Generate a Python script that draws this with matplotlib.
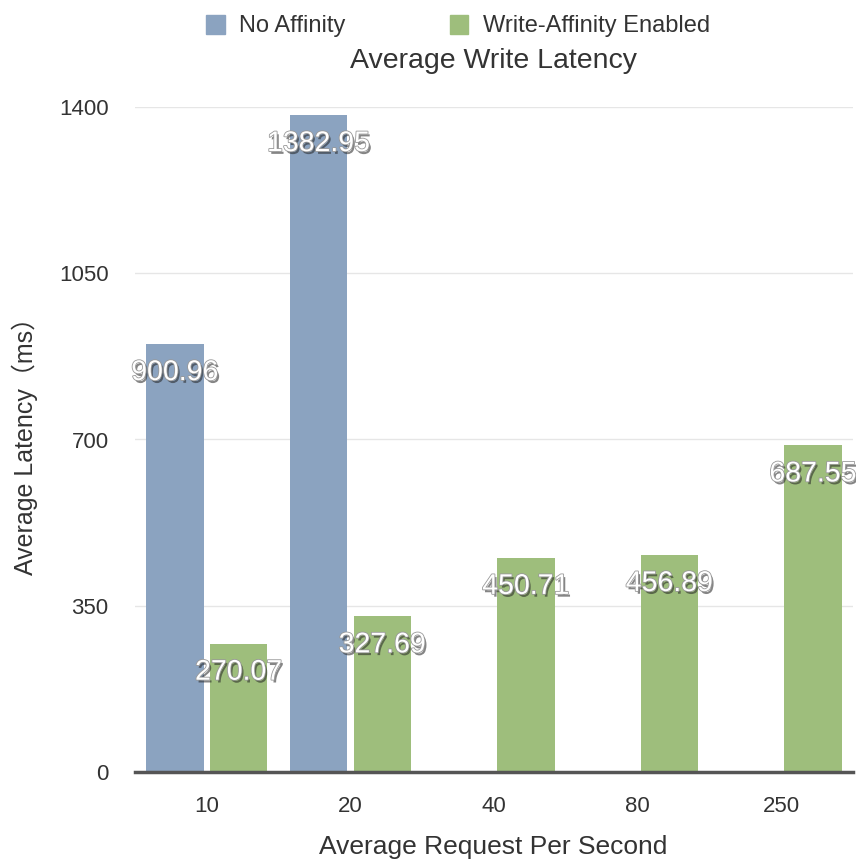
import numpy as np
import matplotlib
matplotlib.use("Agg")
from matplotlib import pyplot as plt
from matplotlib import patheffects as pe
from matplotlib.patches import Patch

plt.rcParams["font.family"] = ["Liberation Sans", "Noto Sans CJK SC", "DejaVu Sans"]

categories = ["10", "20", "40", "80", "250"]
no_affinity = [900.96, 1382.95, None, None, None]
write_affinity = [270.07, 327.69, 450.71, 456.89, 687.55]
yticks = [0, 350, 700, 1050, 1400]

blue = "#8ba3c0"
green = "#9ebe7c"

fig = plt.figure(figsize=(8.56, 8.63), dpi=100)
ax = fig.add_axes([135 / 856, 1 - 772 / 863, 718 / 856, (772 - 107) / 863])

x = np.arange(len(categories))
w = 0.40
off = 0.222

shadow = [pe.SimplePatchShadow(offset=(1.5, -2), shadow_rgbFace="#222222", alpha=0.55),
          pe.Stroke(linewidth=1.2, foreground="#999999"), pe.Normal()]

for i, v in enumerate(no_affinity):
    if v is None:
        continue
    ax.bar(x[i] - off, v, w, color=blue, zorder=2)
    ax.annotate("{:.2f}".format(v), (x[i] - off, v), xytext=(0, -29),
                textcoords="offset pixels", ha="center", va="center",
                fontsize=20.5, color="white", path_effects=shadow, zorder=4)
for i, v in enumerate(write_affinity):
    ax.bar(x[i] + off, v, w, color=green, zorder=2)
    ax.annotate("{:.2f}".format(v), (x[i] + off, v), xytext=(0, -29),
                textcoords="offset pixels", ha="center", va="center",
                fontsize=20.5, color="white", path_effects=shadow, zorder=4)

ax.set_xlim(-0.5, 4.5)
ax.set_ylim(0, 1400)
ax.set_yticks(yticks)
ax.set_xticks(x)
ax.set_xticklabels(categories)
ax.tick_params(axis="both", length=0, labelsize=16, colors="#333333")
ax.tick_params(axis="y", pad=19)
ax.tick_params(axis="x", pad=17)
ax.yaxis.grid(True, color="#e6e6e6", linewidth=1)
ax.set_axisbelow(True)
for s in ["top", "right", "left"]:
    ax.spines[s].set_visible(False)
ax.spines["bottom"].set_color("#555555")
ax.spines["bottom"].set_linewidth(2.5)
ax.spines["bottom"].set_zorder(5)

fig.text(493 / 856, 1 - 847 / 863, "Average Request Per Second", ha="center", va="center",
         fontsize=19, color="#333333")
fig.text(25 / 856, 1 - 440 / 863, "Average Latency（ms）", ha="center", va="center",
         rotation=90, fontsize=18, color="#333333")
fig.text(493 / 856, 1 - 61 / 863, "Average Write Latency", ha="center", va="center",
         fontsize=20.5, color="#333333")

handles = [Patch(color=blue, label="No Affinity"), Patch(color=green, label="Write-Affinity Enabled")]
fig.legend(handles=handles, loc="center", bbox_to_anchor=(458 / 856, 1 - 26 / 863), ncol=2,
           frameon=False, fontsize=17, handlelength=0.8, handleheight=0.85,
           handletextpad=0.6, columnspacing=4.4, labelcolor="#333333")

plt.savefig("out.png", dpi=100)
